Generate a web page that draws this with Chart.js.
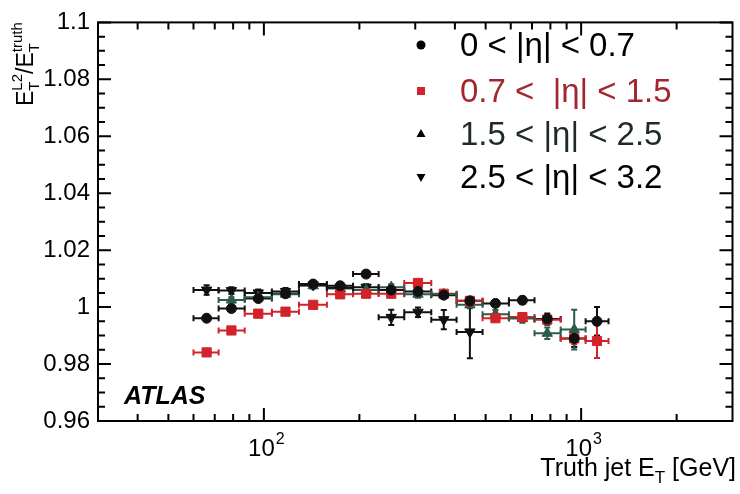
<!DOCTYPE html>
<html>
<head>
<meta charset="utf-8">
<script src="https://cdn.jsdelivr.net/npm/chart.js@4.4.1/dist/chart.umd.min.js"></script>
<style>
html, body { margin: 0; padding: 0; background: #fff; }
#wrap { width: 740px; height: 494px; }
</style>
</head>
<body>
<div id="wrap"><canvas id="chart-l2"></canvas></div>
<script>
const FONT = '"Liberation Sans", Arial, Helvetica, sans-serif';

// truth jet ET bins [GeV]
const etCenter = [66, 79, 96, 117, 143, 174, 210, 252, 306, 369, 446, 537, 653, 782, 951, 1122];
const etLow    = [60, 72, 87, 106, 129, 158, 191, 230, 277, 337, 405, 489, 592, 713, 862, 1033];
const etHigh   = [72, 87, 106, 129, 158, 191, 230, 277, 337, 405, 489, 592, 713, 862, 1033, 1220];

// ET(L2) / ET(truth) per eta region
const eta07  = [0.9961, 0.9995, 1.0030, 1.0047, 1.0081, 1.0075, 1.0116, 1.0060, 1.0055, 1.0042, 1.0022, 1.0013, 1.0024, 0.9958, 0.9890, 0.9950];
const eta07Err = [0.0008, 0.0008, 0.0008, 0.0008, 0.0008, 0.0008, 0.0008, 0.0010, 0.0010, 0.0010, 0.0010, 0.0010, 0.0012, 0.0020, 0.0030, 0.0050];
const eta15  = [0.9841, 0.9918, 0.9977, 0.9984, 1.0008, 1.0045, 1.0047, 1.0047, 1.0085, 1.0047, 1.0022, 0.9961, 0.9965, 0.9956, 0.9890, 0.9881];
const eta15Err = [0.0008, 0.0008, 0.0008, 0.0008, 0.0008, 0.0008, 0.0008, 0.0010, 0.0010, 0.0010, 0.0010, 0.0010, 0.0012, 0.0015, 0.0020, 0.0060];
const eta25  = [null, 1.0025, 1.0035, 1.0045, 1.0075, 1.0065, 1.0060, 1.0070, 1.0045, 1.0045, 1.0008, 0.9975, 0.9960, 0.9908, 0.9921, null];
const eta25Err = [0, 0.0010, 0.0010, 0.0010, 0.0010, 0.0010, 0.0010, 0.0010, 0.0012, 0.0012, 0.0012, 0.0015, 0.0015, 0.0020, 0.0070, 0];
const eta32  = [1.0060, 1.0058, 1.0050, 1.0055, 1.0078, 1.0068, 1.0070, 0.9964, 0.9982, 0.9956, 0.9913, null, null, null, null, null];
const eta32Err = [0.0017, 0.0012, 0.0012, 0.0012, 0.0010, 0.0010, 0.0010, 0.0027, 0.0017, 0.0034, 0.0093, 0, 0, 0, 0, 0];

const legendLabels = ['0 < |\u03b7| < 0.7', '0.7 <  |\u03b7| < 1.5', '1.5 < |\u03b7| < 2.5', '2.5 < |\u03b7| < 3.2'];

function points(vals, errs) {
  let out = [];
  for (let i in vals) {
    if (vals[i] === null) continue;
    out.push({x: etCenter[i], y: vals[i], xMin: etLow[i], xMax: etHigh[i], err: errs[i]});
  }
  return out;
}

function series(label, vals, errs, color, style, rot, radius, textColor) {
  return {
    label: label,
    data: points(vals, errs),
    pointStyle: style,
    rotation: rot,
    pointRadius: radius,
    backgroundColor: color,
    borderColor: color,
    borderWidth: 1,
    showLine: false,
    barColor: color,
    textColor: textColor
  };
}

const datasets = [
  series(legendLabels[0], eta07, eta07Err, '#111111', 'circle', 0, 5, '#000000'),
  series(legendLabels[1], eta15, eta15Err, '#d0242a', 'rect', 0, 6.5, '#a3262f'),
  series(legendLabels[2], eta25, eta25Err, '#2c5a4b', 'triangle', 0, 6, '#1d2b27'),
  series(legendLabels[3], eta32, eta32Err, '#111111', 'triangle', 180, 6, '#000000')
];

const errorBars = {
  id: 'errorBars',
  beforeDatasetsDraw(chart) {
    const ctx = chart.ctx, xs = chart.scales.x, ys = chart.scales.y;
    ctx.save();
    ctx.lineWidth = 2;
    chart.data.datasets.forEach(ds => {
      ctx.strokeStyle = ds.barColor;
      ds.data.forEach(p => {
        const x = xs.getPixelForValue(p.x), y = ys.getPixelForValue(p.y);
        const x0 = xs.getPixelForValue(p.xMin), x1 = xs.getPixelForValue(p.xMax);
        const y0 = ys.getPixelForValue(p.y - p.err), y1 = ys.getPixelForValue(p.y + p.err);
        ctx.beginPath();
        ctx.moveTo(x0, y); ctx.lineTo(x1, y);
        ctx.moveTo(x0, y - 3); ctx.lineTo(x0, y + 3);
        ctx.moveTo(x1, y - 3); ctx.lineTo(x1, y + 3);
        if (p.err > 0) {
          ctx.moveTo(x, y0); ctx.lineTo(x, y1);
          ctx.moveTo(x - 3, y0); ctx.lineTo(x + 3, y0);
          ctx.moveTo(x - 3, y1); ctx.lineTo(x + 3, y1);
        }
        ctx.stroke();
      });
    });
    ctx.restore();
  }
};

function drawMarker(ctx, style, x, y, color) {
  ctx.fillStyle = color;
  ctx.beginPath();
  if (style === 'circle') ctx.arc(x, y, 4.5, 0, Math.PI * 2);
  else if (style === 'rect') ctx.rect(x - 4, y - 4, 8, 8);
  else if (style === 'up') { ctx.moveTo(x, y - 5); ctx.lineTo(x + 4.5, y + 3); ctx.lineTo(x - 4.5, y + 3); ctx.closePath(); }
  else { ctx.moveTo(x, y + 5); ctx.lineTo(x + 4.5, y - 3); ctx.lineTo(x - 4.5, y - 3); ctx.closePath(); }
  ctx.fill();
}

const frame = {
  id: 'frame',
  afterDraw(chart) {
    const ctx = chart.ctx, a = chart.chartArea, xs = chart.scales.x, ys = chart.scales.y;
    ctx.save();
    ctx.strokeStyle = '#000';
    ctx.lineWidth = 2;
    ctx.strokeRect(a.left, a.top, a.right - a.left, a.bottom - a.top);

    // y ticks, inside, both sides
    ctx.beginPath();
    for (let k = 0; k <= 28; k++) {
      const v = 0.96 + k * 0.005;
      const y = ys.getPixelForValue(v);
      const len = (k % 4 === 0) ? 13 : 7;
      ctx.moveTo(a.left, y); ctx.lineTo(a.left + len, y);
      ctx.moveTo(a.right, y); ctx.lineTo(a.right - len, y);
    }
    // x ticks, inside, top and bottom
    const xt = [40, 50, 60, 70, 80, 90, 100, 200, 300, 400, 500, 600, 700, 800, 900, 1000, 2000];
    xt.forEach(v => {
      const x = xs.getPixelForValue(v);
      const len = (v === 100 || v === 1000) ? 13 : 7;
      ctx.moveTo(x, a.bottom); ctx.lineTo(x, a.bottom - len);
      ctx.moveTo(x, a.top); ctx.lineTo(x, a.top + len);
    });
    ctx.stroke();

    ctx.fillStyle = '#000';
    ctx.textBaseline = 'alphabetic';

    // x tick labels 10^n
    xs.ticks.forEach(t => {
      const x = xs.getPixelForValue(t.value);
      const e = String(Math.round(Math.log10(t.value)));
      ctx.font = '24px ' + FONT;
      const wb = ctx.measureText('10').width;
      ctx.font = '16px ' + FONT;
      const we = ctx.measureText(e).width;
      const left = x + 2 - (wb + we) / 2;
      ctx.font = '24px ' + FONT;
      ctx.textAlign = 'left';
      ctx.fillText('10', left, 456);
      ctx.font = '16px ' + FONT;
      ctx.fillText(e, left + wb + 1, 444);
    });

    // ATLAS label
    ctx.font = 'italic bold 25px ' + FONT;
    ctx.textAlign = 'left';
    ctx.fillText('ATLAS', 124, 404);

    // x title: Truth jet E_T [GeV]
    const t1 = 'Truth jet E', t3 = ' [GeV]';
    ctx.font = '17px ' + FONT;
    const wSub = ctx.measureText('T').width;
    ctx.font = '25px ' + FONT;
    const w1 = ctx.measureText(t1).width, w3 = ctx.measureText(t3).width;
    let x0 = 736 - (w1 + wSub + w3);
    const base = 476;
    ctx.fillText(t1, x0, base);
    ctx.font = '17px ' + FONT;
    ctx.fillText('T', x0 + w1, base + 7);
    ctx.font = '25px ' + FONT;
    ctx.fillText(t3, x0 + w1 + wSub, base);

    // y title: E_T^L2 / E_T^truth (rotated)
    ctx.save();
    ctx.translate(33, 106);
    ctx.rotate(-Math.PI / 2);
    let cx = 0;
    const big = '23px ' + FONT, small = '15px ' + FONT;
    function part(main, sub, sup) {
      ctx.font = big;
      ctx.fillText(main, cx, 0);
      cx += ctx.measureText(main).width;
      if (sub !== null || sup !== null) {
        ctx.font = small;
        let w = 0;
        if (sub) { ctx.fillText(sub, cx, 6); w = ctx.measureText(sub).width; }
        if (sup) { ctx.fillText(sup, cx, -11); w = Math.max(w, ctx.measureText(sup).width); }
        cx += w;
      }
    }
    part('E', 'T', 'L2');
    part('/', null, null);
    part('E', 'T', 'truth');
    ctx.restore();

    // legend
    const styles = ['circle', 'rect', 'up', 'down'];
    const rows = [45, 91, 134, 177];
    ctx.font = '33px ' + FONT;
    ctx.textBaseline = 'middle';
    chart.data.datasets.forEach((ds, i) => {
      drawMarker(ctx, styles[i], 421, rows[i], i === 1 ? '#d0242a' : '#000');
      ctx.fillStyle = ds.textColor;
      ctx.fillText(ds.label, 460, rows[i] + 2);
    });
    ctx.restore();
  }
};

const ctx = document.getElementById('chart-l2');
const chart = new Chart(ctx, {
  type: 'scatter',
  data: { datasets: datasets },
  options: {
    responsive: true,
    maintainAspectRatio: false,
    animation: false,
    layout: { padding: { top: 13, right: 4, left: 0, bottom: 0 } },
    plugins: { legend: { display: false }, tooltip: { enabled: false } },
    scales: {
      x: {
        type: 'logarithmic',
        min: 30,
        max: 3000,
        grid: { display: false, drawTicks: false },
        border: { display: false },
        afterBuildTicks: scale => { scale.ticks = [100, 1000].map(v => ({ value: v })); },
        afterFit: scale => { scale.height = 73; },
        ticks: { display: false }
      },
      y: {
        type: 'linear',
        min: 0.96,
        max: 1.1,
        grid: { display: false, drawTicks: false },
        border: { display: false },
        afterFit: scale => { scale.width = 98; },
        ticks: {
          stepSize: 0.02,
          padding: 8,
          color: '#000',
          font: { family: FONT, size: 24 },
          callback: v => parseFloat(v.toFixed(2)).toString()
        }
      }
    }
  },
  plugins: [errorBars, frame]
});
</script>
</body>
</html>
